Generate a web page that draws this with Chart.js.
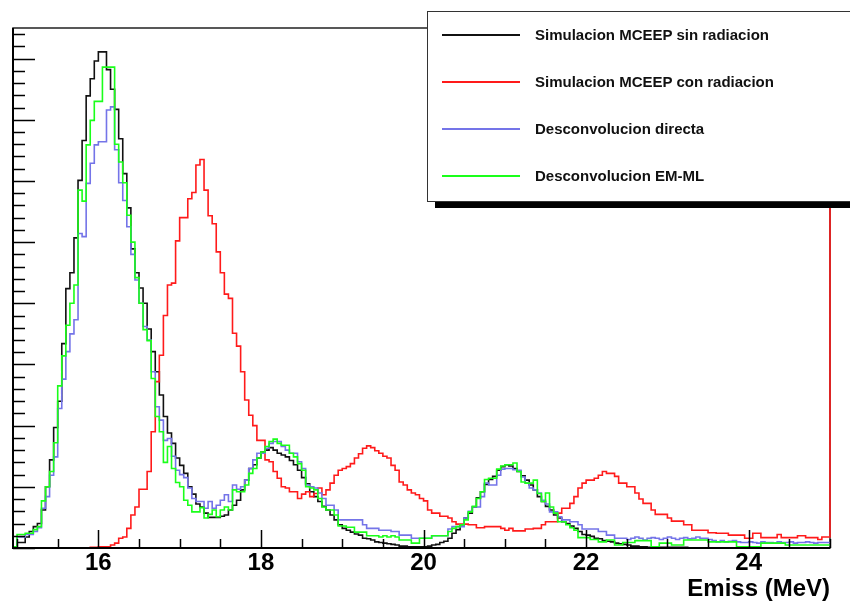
<!DOCTYPE html>
<html>
<head>
<meta charset="utf-8">
<script src="https://cdn.jsdelivr.net/npm/chart.js@4.4.1/dist/chart.umd.min.js"></script>
<style>
  body { margin: 0; background: #fff; overflow: hidden; }
  #wrap { position: relative; width: 850px; height: 601px; }
  #legend {
    position: absolute; left: 427px; top: 11px; width: 440px; height: 191px;
    box-sizing: border-box; background: #fff; border: 1.5px solid #333;
    box-shadow: 8px 6px 0 #000;
    font: bold 15px "Liberation Sans", Arial, sans-serif; color: #111;
  }
  .item { position: absolute; left: 0; width: 100%; height: 20px; }
  .swatch { position: absolute; left: 14px; top: 9px; width: 78px; height: 2px; }
  .lbl { position: absolute; left: 107px; top: 0; line-height: 20px; white-space: nowrap; }
</style>
</head>
<body>
<div id="wrap">
  <canvas id="chart" width="850" height="601"></canvas>
  <div id="legend"></div>
</div>
<script>
// histogram binning (bin left edges) and axis labels
const binStart = 14.95;
const binWidth = 0.05;
const xTickLabels = [16, 18, 20, 22, 24];

// Simulacion MCEEP sin radiacion
const sinRadiacion = [
  2, 9, 9, 18, 27, 35, 40, 62, 100, 144,
  197, 240, 334, 424, 450, 507, 601, 666, 739, 767,
  796, 811, 811, 782, 750, 717, 669, 612, 556, 489,
  450, 425, 400, 358, 321, 288, 250, 215, 188, 171,
  147, 135, 122, 100, 88, 72, 67, 57, 50, 50,
  50, 52, 54, 62, 70, 78, 95, 111, 130, 136,
  147, 157, 160, 164, 160, 155, 152, 149, 143, 136,
  127, 115, 105, 92, 84, 76, 68, 62, 54, 46,
  38, 32, 29, 26, 23, 21, 16, 15, 13, 10,
  9, 8, 7, 6, 5, 3, 3, 2, 2, 2,
  2, 2, 3, 5, 6, 9, 11, 16, 24, 30,
  38, 49, 57, 67, 82, 92, 104, 112, 117, 127,
  133, 136, 134, 130, 125, 118, 111, 103, 95, 84,
  76, 68, 62, 54, 49, 43, 40, 36, 32, 27,
  22, 21, 19, 16, 15, 12, 11, 10, 8, 7,
  6, 5, 3, 3, 2, 2, 1, 1, 1, 1,
  1, 1, 1, 1, 1, 1, 0, 0, 0, 0,
  0, 0, 0, 0, 0, 0, 0, 0, 0, 0,
  0, 0, 0, 0, 0, 0, 0, 0, 0, 0,
  0, 0, 0, 0, 0, 0, 0, 0, 0, 0,
  0
];

// Simulacion MCEEP con radiacion
const conRadiacion = [
  0, 0, 0, 0, 0, 0, 0, 0, 0, 0,
  0, 0, 0, 0, 0, 0, 0, 0, 0, 1,
  1, 2, 2, 2, 5, 8, 16, 18, 32, 54,
  67, 96, 96, 125, 190, 272, 315, 380, 430, 433,
  502, 540, 540, 571, 581, 626, 635, 585, 543, 530,
  484, 450, 415, 408, 351, 330, 288, 242, 217, 200,
  176, 176, 144, 141, 125, 114, 100, 98, 92, 92,
  81, 88, 92, 84, 89, 98, 87, 95, 106, 119,
  127, 130, 133, 138, 147, 154, 163, 167, 164, 159,
  155, 150, 147, 135, 127, 108, 103, 95, 90, 87,
  81, 77, 62, 57, 57, 52, 52, 49, 43, 39,
  39, 39, 38, 38, 33, 33, 35, 35, 35, 35,
  32, 29, 32, 28, 28, 28, 31, 31, 32, 32,
  38, 43, 43, 43, 57, 65, 65, 73, 84, 98,
  106, 111, 111, 114, 119, 125, 122, 122, 117, 106,
  106, 100, 100, 90, 80, 73, 73, 62, 55, 55,
  55, 49, 44, 44, 44, 38, 38, 29, 29, 29,
  29, 25, 25, 24, 24, 24, 21, 21, 21, 21,
  16, 16, 24, 24, 17, 17, 17, 17, 22, 17,
  17, 17, 17, 20, 20, 17, 17, 17, 14, 18,
  18
];
const conRadiacionOverflow = 2000;

// Desconvolucion directa
const desconvDirecta = [
  2, 18, 18, 22, 22, 27, 33, 65, 84, 119,
  149, 228, 276, 321, 350, 373, 514, 509, 596, 629,
  659, 664, 664, 716, 721, 651, 597, 568, 525, 480,
  438, 400, 362, 340, 288, 231, 209, 176, 179, 150,
  127, 120, 115, 98, 81, 76, 76, 65, 76, 65,
  70, 78, 87, 76, 103, 96, 100, 111, 130, 144,
  155, 155, 163, 171, 174, 174, 166, 160, 155, 155,
  141, 130, 103, 100, 98, 90, 81, 70, 70, 62,
  46, 46, 46, 46, 46, 46, 38, 32, 32, 32,
  29, 29, 29, 27, 27, 21, 21, 21, 16, 16,
  16, 16, 16, 20, 20, 20, 20, 31, 35, 35,
  35, 49, 60, 67, 67, 84, 106, 103, 103, 119,
  129, 130, 130, 128, 127, 116, 106, 98, 95, 90,
  78, 72, 59, 59, 51, 46, 46, 43, 43, 38,
  31, 31, 31, 31, 27, 27, 21, 21, 16, 16,
  16, 14, 16, 18, 16, 13, 16, 17, 16, 14,
  16, 18, 16, 14, 16, 17, 15, 16, 18, 16,
  16, 14, 12, 10, 12, 10, 11, 12, 10, 9,
  9, 10, 9, 8, 10, 9, 9, 8, 10, 9,
  9, 10, 8, 9, 9, 10, 9, 8, 9, 9,
  9
];

// Desconvolucion EM-ML
const desconvEMML = [
  2, 22, 22, 24, 24, 30, 35, 77, 100, 125,
  172, 265, 314, 364, 400, 430, 585, 567, 659, 699,
  730, 730, 786, 786, 786, 660, 631, 597, 544, 500,
  442, 400, 357, 339, 277, 215, 190, 140, 166, 130,
  107, 100, 78, 70, 59, 59, 66, 49, 55, 62,
  51, 62, 67, 62, 95, 92, 92, 103, 122, 130,
  147, 157, 166, 174, 178, 171, 168, 168, 155, 149,
  138, 127, 100, 98, 95, 81, 67, 62, 62, 54,
  36, 36, 34, 34, 26, 26, 26, 20, 20, 20,
  18, 20, 18, 20, 18, 13, 13, 13, 8, 8,
  16, 16, 16, 20, 20, 20, 20, 27, 32, 35,
  38, 46, 59, 68, 81, 92, 112, 114, 114, 129,
  134, 136, 136, 139, 125, 108, 106, 106, 111, 89,
  76, 90, 67, 57, 43, 43, 38, 33, 29, 17,
  17, 17, 14, 14, 10, 10, 13, 13, 5, 5,
  9, 9, 9, 12, 12, 12, 12, 2, 2, 8,
  8, 8, 5, 5, 5, 13, 13, 13, 13, 13,
  13, 10, 10, 10, 10, 10, 10, 10, 2, 2,
  2, 2, 2, 2, 8, 8, 8, 8, 8, 8,
  5, 5, 5, 5, 5, 5, 5, 5, 5, 5,
  5
];

const legendNames = [
  'Simulacion MCEEP sin radiacion',
  'Simulacion MCEEP con radiacion',
  'Desconvolucion directa',
  'Desconvolucion EM-ML'
];

// bin edge, rounded so the last edge lands exactly on the axis end
function edge(i) {
  return Math.round((binStart + i * binWidth) * 1000) / 1000;
}

// bin contents -> step points at the left bin edges, closed at the right edge
function toSteps(values, overflow) {
  const pts = values.map((v, i) => ({ x: edge(i), y: v }));
  const last = overflow !== undefined ? overflow : values[values.length - 1];
  pts.push({ x: edge(values.length), y: last });
  return pts;
}

function histo(label, values, color, order, overflow) {
  return {
    label: label,
    data: toSteps(values, overflow),
    borderColor: color,
    borderWidth: 1.6,
    stepped: 'before',
    pointRadius: 0,
    fill: false,
    order: order,
    clip: 2
  };
}

// ROOT-like frame and inward tick marks
const rootFrame = {
  id: 'rootFrame',
  beforeDatasetsDraw(chart) {
    const { ctx, chartArea: a } = chart;
    ctx.save();
    ctx.strokeStyle = '#222';
    ctx.lineWidth = 1.5;
    ctx.strokeRect(a.left, a.top, a.right - a.left, a.bottom - a.top);
    ctx.restore();
  },
  afterDatasetsDraw(chart) {
    const { ctx, chartArea: a, scales: { x, y } } = chart;
    ctx.save();
    ctx.strokeStyle = '#000';
    ctx.lineWidth = 1.5;
    ctx.beginPath();
    for (let v = 15; v <= 25; v += 0.5) {
      const px = Math.round(x.getPixelForValue(v)) + 0.5;
      const len = v % 2 === 0 ? 18 : 9;
      ctx.moveTo(px, a.bottom);
      ctx.lineTo(px, a.bottom - len);
    }
    for (let v = 0; v <= 840; v += 20) {
      const py = Math.round(y.getPixelForValue(v)) + 0.5;
      const len = v % 100 === 0 ? 22 : 12;
      ctx.moveTo(a.left, py);
      ctx.lineTo(a.left + len, py);
    }
    ctx.stroke();
    ctx.lineWidth = 2;
    ctx.beginPath();
    ctx.moveTo(a.left, a.top);
    ctx.lineTo(a.left, a.bottom);
    ctx.lineTo(a.right, a.bottom);
    ctx.stroke();
    ctx.restore();
  }
};

const axisFont = { family: 'Liberation Sans', size: 24, weight: 'bold', lineHeight: 1 };

const chart = new Chart(document.getElementById('chart'), {
  type: 'line',
  data: {
    datasets: [
      histo(legendNames[0], sinRadiacion, '#111111', 3),
      histo(legendNames[1], conRadiacion, '#ff1a1a', 2, conRadiacionOverflow),
      histo(legendNames[2], desconvDirecta, '#7474e8', 1),
      histo(legendNames[3], desconvEMML, '#1aff1a', 0)
    ]
  },
  options: {
    responsive: false,
    animation: false,
    layout: { padding: { left: 13, top: 28, right: 20, bottom: 0 } },
    plugins: { legend: { display: false }, tooltip: { enabled: false } },
    scales: {
      x: {
        type: 'linear',
        min: 14.95,
        max: 25,
        grid: { display: false, drawTicks: false },
        border: { display: false },
        afterBuildTicks: s => { s.ticks = xTickLabels.map(v => ({ value: v })); },
        ticks: { color: '#000', font: axisFont, padding: 3, maxRotation: 0, autoSkip: false },
        title: { display: true, text: 'Emiss (MeV)', align: 'end', color: '#000', font: axisFont, padding: 0 },
        afterFit: s => { s.height = 53; }
      },
      y: {
        min: 0,
        max: 850,
        ticks: { display: false },
        grid: { display: false, drawTicks: false },
        border: { display: false },
        afterFit: s => { s.width = 0; }
      }
    }
  },
  plugins: [rootFrame]
});

// legend box (ROOT TLegend look)
const legendEl = document.getElementById('legend');
const lineCentres = [22.5, 69.5, 116.5, 163.5];
chart.data.datasets.forEach((ds, i) => {
  const item = document.createElement('div');
  item.className = 'item';
  item.style.top = (lineCentres[i] - 10) + 'px';
  const sw = document.createElement('div');
  sw.className = 'swatch';
  sw.style.background = ds.borderColor;
  const lbl = document.createElement('div');
  lbl.className = 'lbl';
  lbl.textContent = ds.label;
  item.appendChild(sw);
  item.appendChild(lbl);
  legendEl.appendChild(item);
});
</script>
</body>
</html>
